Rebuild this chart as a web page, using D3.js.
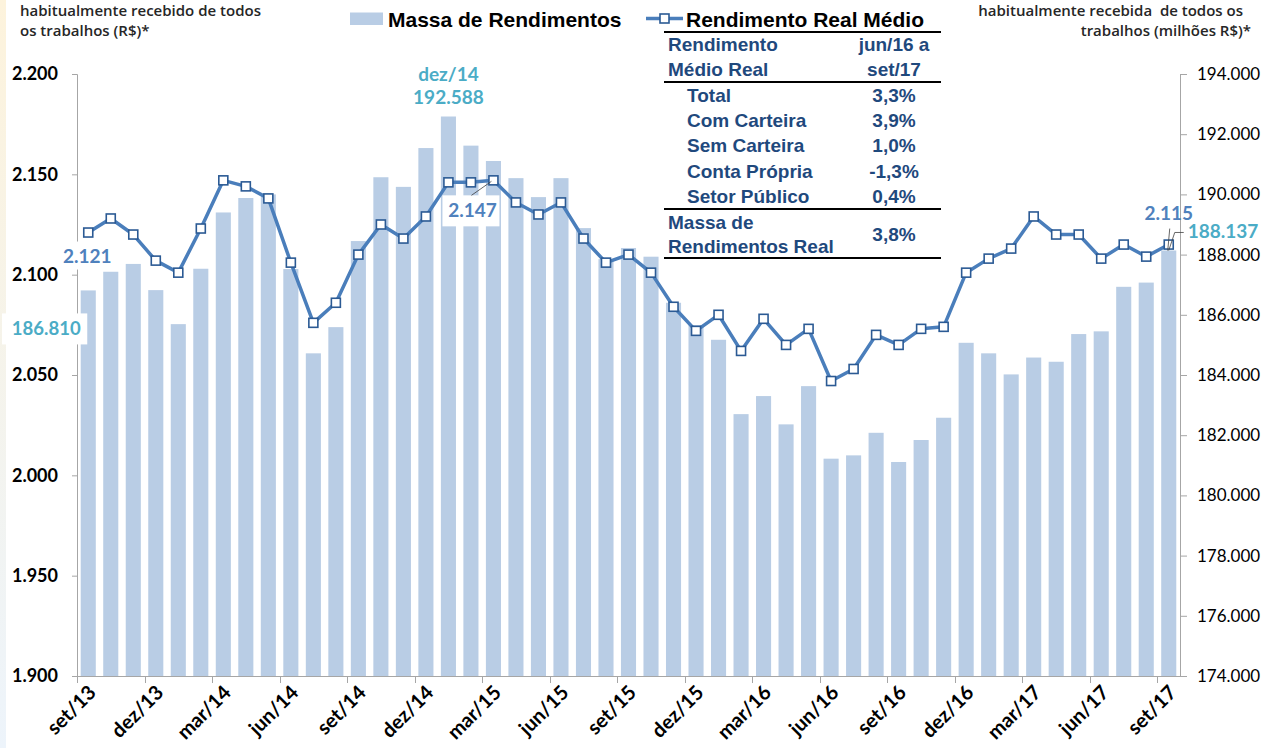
<!DOCTYPE html>
<html>
<head>
<meta charset="utf-8">
<script src="https://cdn.jsdelivr.net/npm/d3@7"></script>
<style>
  body { margin: 0; background: #fff; }
  svg { display: block; }
</style>
</head>
<body>
<div id="chart"></div>
<script>
const meses = ["set/13","out/13","nov/13","dez/13","jan/14","fev/14","mar/14","abr/14","mai/14","jun/14","jul/14","ago/14",
  "set/14","out/14","nov/14","dez/14","jan/15","fev/15","mar/15","abr/15","mai/15","jun/15","jul/15","ago/15",
  "set/15","out/15","nov/15","dez/15","jan/16","fev/16","mar/16","abr/16","mai/16","jun/16","jul/16","ago/16",
  "set/16","out/16","nov/16","dez/16","jan/17","fev/17","mar/17","abr/17","mai/17","jun/17","jul/17","ago/17","set/17"];

// massa de rendimentos (milhões R$) - eixo direito
const massa = [186810,187430,187690,186820,185690,187530,189400,189880,190000,187520,184720,185590,
  188450,190570,190250,191540,192588,191620,191110,190540,189910,190540,188880,187850,
  188220,187930,186400,185660,185170,182700,183300,182360,183630,181220,181330,182080,
  181110,181840,182580,185070,184720,184020,184580,184440,185360,185450,186930,187070,188137];

// rendimento real médio (R$) - eixo esquerdo
const rendimento = [2121,2128,2120,2107,2101,2123,2147,2144,2138,2106,2076,2086,
  2110,2125,2118,2129,2146,2146,2147,2136,2130,2136,2118,2106,
  2110,2101,2084,2072,2080,2062,2078,2065,2073,2047,2053,2070,
  2065,2073,2074,2101,2108,2113,2129,2120,2120,2108,2115,2109,2115];

const ticksEsq = [1900,1950,2000,2050,2100,2150,2200];
const ticksDir = [174000,176000,178000,180000,182000,184000,186000,188000,190000,192000,194000];

const tabelaCab = [["Rendimento","jun/16 a"],["Médio Real","set/17"]];
const tabelaLinhas = [["Total","3,3%"],["Com Carteira","3,9%"],["Sem Carteira","1,0%"],["Conta Própria","-1,3%"],["Setor Público","0,4%"]];
const tabelaMassa = [["Massa de","Rendimentos Real"],"3,8%"];
const mesDestaque = "dez/14";

const W = 1266, H = 748;
const mLeft = 77, mRight = 1180, mTop = 74, mBottom = 676;

const br = d3.formatLocale({decimal: ",", thousands: ".", grouping: [3], currency: ["R$", ""]});
const fmt = br.format(",d");

const svg = d3.select("#chart").append("svg").attr("width", W).attr("height", H);

// faixa de fundo à esquerda
const grad = svg.append("defs").append("linearGradient").attr("id", "fundo").attr("x1", 0).attr("y1", 0).attr("x2", 0).attr("y2", 1);
grad.append("stop").attr("offset", "0%").attr("stop-color", "#fdf3dc");
grad.append("stop").attr("offset", "100%").attr("stop-color", "#edf4fb");
svg.append("rect").attr("x", 0).attr("y", 0).attr("width", 6).attr("height", H).attr("fill", "url(#fundo)");

const x = d3.scaleBand().domain(meses).range([mLeft, mRight]).paddingInner(0.33).paddingOuter(0.165);
const yL = d3.scaleLinear().domain([1900, 2200]).range([mBottom, mTop]);
const yR = d3.scaleLinear().domain([174000, 194000]).range([mBottom, mTop]);
const cx = m => x(m) + x.bandwidth() / 2;
const step = x.step();

// barras
svg.append("g").selectAll("rect").data(massa).join("rect")
  .attr("x", (d, i) => x(meses[i]))
  .attr("y", d => yR(d))
  .attr("width", x.bandwidth())
  .attr("height", d => mBottom - yR(d))
  .attr("fill", "#b9cde5");

const axisColor = "#a6a6a6";

// eixo esquerdo
const gL = svg.append("g").attr("transform", `translate(${mLeft},0)`)
  .call(d3.axisLeft(yL).tickValues(ticksEsq).tickFormat(fmt).tickSize(5).tickPadding(14));
gL.select(".domain").attr("stroke", axisColor);
gL.selectAll(".tick line").attr("stroke", axisColor);
gL.selectAll(".tick text").attr("font-family", "Lato").attr("font-weight", "bold").attr("font-size", 18).attr("fill", "#000");

// eixo direito
const gR = svg.append("g").attr("transform", `translate(${mRight},0)`)
  .call(d3.axisRight(yR).tickValues(ticksDir).tickFormat(fmt).tickSize(7).tickPadding(10));
gR.select(".domain").attr("stroke", axisColor);
gR.selectAll(".tick line").attr("stroke", axisColor);
gR.selectAll(".tick text").attr("font-family", "Lato").attr("font-size", 17).attr("fill", "#000");

// eixo x
svg.append("line").attr("x1", mLeft).attr("x2", mRight).attr("y1", mBottom + 0.5).attr("y2", mBottom + 0.5).attr("stroke", axisColor);
const rotulos = meses.filter((m, i) => i % 3 === 0);
svg.append("g").selectAll("line").data(rotulos).join("line")
  .attr("x1", m => Math.round(x(m) - step * 0.165) + 0.5)
  .attr("x2", m => Math.round(x(m) - step * 0.165) + 0.5)
  .attr("y1", mBottom).attr("y2", mBottom + 7)
  .attr("stroke", axisColor);
svg.append("g").selectAll("text").data(rotulos).join("text")
  .attr("transform", m => `translate(${cx(m) - 1},${mBottom + 8}) rotate(-45)`)
  .attr("text-anchor", "end")
  .attr("dy", "0.7em")
  .attr("font-family", "Lato").attr("font-weight", "bold").attr("font-size", 20).attr("fill", "#000")
  .text(m => m);

// linha
const line = d3.line().x((d, i) => cx(meses[i])).y(d => yL(d));
svg.append("path").datum(rendimento).attr("d", line)
  .attr("fill", "none").attr("stroke", "#4a7ebb").attr("stroke-width", 3.5).attr("stroke-linejoin", "round");
svg.append("g").selectAll("rect").data(rendimento).join("rect")
  .attr("x", (d, i) => cx(meses[i]) - 4.5)
  .attr("y", d => yL(d) - 4.5)
  .attr("width", 9).attr("height", 9)
  .attr("fill", "#fff").attr("stroke", "#2b5a94").attr("stroke-width", 1.6);

// rótulos de dados
const lab = svg.append("g").attr("font-family", "Lato").attr("font-weight", "bold");
function caixa(x0, y0, w, h) {
  lab.append("rect").attr("x", x0).attr("y", y0).attr("width", w).attr("height", h).attr("fill", "#fff");
}
const n = meses.length - 1;
const iMax = d3.maxIndex(massa);
const iMaxR = 18;

// primeiro mês
const p0x = cx(meses[0]);
caixa(p0x - 30, yL(rendimento[0]) + 9, 60, 28);
lab.append("text").attr("x", p0x - 1).attr("y", yL(rendimento[0]) + 30).attr("text-anchor", "middle")
  .attr("font-size", 19).attr("fill", "#4f81bd").text(fmt(rendimento[0]));
caixa(2, yR(massa[0]) + 23, p0x - 3, 31);
lab.append("text").attr("x", p0x - 42).attr("y", yR(massa[0]) + 45).attr("text-anchor", "middle")
  .attr("font-size", 18.5).attr("fill", "#4bacc6").text(fmt(massa[0]));

// máximo da massa
const pmx = cx(meses[iMax]);
lab.append("text").attr("x", pmx).attr("y", yR(massa[iMax]) - 36).attr("text-anchor", "middle")
  .attr("font-size", 19).attr("fill", "#4bacc6").text(mesDestaque);
lab.append("text").attr("x", pmx).attr("y", yR(massa[iMax]) - 13).attr("text-anchor", "middle")
  .attr("font-size", 19).attr("fill", "#4bacc6").text(fmt(massa[iMax]));

// máximo do rendimento
const prx = cx(meses[iMaxR]), pry = yL(rendimento[iMaxR]);
caixa(prx - 51, pry + 15, 57, 31);
lab.append("text").attr("x", prx - 21).attr("y", pry + 37).attr("text-anchor", "middle")
  .attr("font-size", 19).attr("fill", "#4f81bd").text(fmt(rendimento[iMaxR]));
lab.append("line").attr("x1", prx - 22).attr("y1", pry + 15).attr("x2", prx - 2).attr("y2", pry + 1)
  .attr("stroke", "#404040").attr("stroke-width", 0.8);

// último mês
const pnx = cx(meses[n]), pny = yL(rendimento[n]);
lab.append("text").attr("x", pnx).attr("y", pny - 25).attr("text-anchor", "middle")
  .attr("font-size", 19).attr("fill", "#4f81bd").text(fmt(rendimento[n]));
lab.append("line").attr("x1", pnx + 1).attr("y1", pny - 16).attr("x2", pnx - 1).attr("y2", pny + 6)
  .attr("stroke", "#404040").attr("stroke-width", 0.8);
const pmy = yR(massa[n]);
lab.append("polyline").attr("points", `${pnx},${pmy} ${pnx + 6},${pmy - 18} ${pnx + 15},${pmy - 18}`)
  .attr("fill", "none").attr("stroke", "#404040").attr("stroke-width", 0.8);
lab.append("text").attr("x", pnx + 19).attr("y", pmy - 12)
  .attr("font-size", 19).attr("fill", "#4bacc6").text(fmt(massa[n]));

// títulos dos eixos
const tit = svg.append("g").attr("font-family", "Open Sans").attr("font-weight", 600).attr("font-size", 15).attr("fill", "#262626");
tit.append("text").attr("x", 20).attr("y", 16).text("habitualmente recebido de todos");
tit.append("text").attr("x", 20).attr("y", 36).text("os trabalhos (R$)*");
tit.append("text").attr("x", 1243).attr("y", 16).attr("text-anchor", "end").attr("xml:space", "preserve").text("habitualmente recebida  de todos os");
tit.append("text").attr("x", 1251).attr("y", 36).attr("text-anchor", "end").text("trabalhos (milhões R$)*");

// legenda
const leg = svg.append("g").attr("font-family", "Liberation Sans").attr("font-weight", "bold").attr("font-size", 21).attr("fill", "#000");
leg.append("rect").attr("x", 350).attr("y", 12.5).attr("width", 33).attr("height", 12.5).attr("fill", "#b9cde5");
leg.append("text").attr("x", 388).attr("y", 27).text("Massa de Rendimentos");
leg.append("line").attr("x1", 646).attr("x2", 683).attr("y1", 18.5).attr("y2", 18.5).attr("stroke", "#4a7ebb").attr("stroke-width", 3.5);
leg.append("rect").attr("x", 660).attr("y", 14).attr("width", 9).attr("height", 9).attr("fill", "#fff").attr("stroke", "#2b5a94").attr("stroke-width", 1.6);
leg.append("text").attr("x", 686).attr("y", 27).text("Rendimento Real Médio");

// tabela
const tab = svg.append("g").attr("font-family", "Liberation Sans").attr("font-weight", "bold").attr("font-size", 19).attr("fill", "#1f497d");
const tabL = 664, tabR = 941, colV = 894;
[32, 82, 209, 258].forEach(yy => {
  tab.append("line").attr("x1", tabL).attr("x2", tabR).attr("y1", yy).attr("y2", yy).attr("stroke", "#000").attr("stroke-width", 2);
});
tabelaCab.forEach((r, i) => {
  tab.append("text").attr("x", 668).attr("y", 51 + i * 25).text(r[0]);
  tab.append("text").attr("x", colV).attr("y", 51 + i * 25).attr("text-anchor", "middle").text(r[1]);
});
tabelaLinhas.forEach((r, i) => {
  tab.append("text").attr("x", 687).attr("y", 102 + i * 25.2).text(r[0]);
  tab.append("text").attr("x", colV).attr("y", 102 + i * 25.2).attr("text-anchor", "middle").text(r[1]);
});
tab.append("text").attr("x", 668).attr("y", 229).text(tabelaMassa[0][0]);
tab.append("text").attr("x", 668).attr("y", 253).text(tabelaMassa[0][1]);
tab.append("text").attr("x", colV).attr("y", 241).attr("text-anchor", "middle").text(tabelaMassa[1]);
</script>
</body>
</html>
